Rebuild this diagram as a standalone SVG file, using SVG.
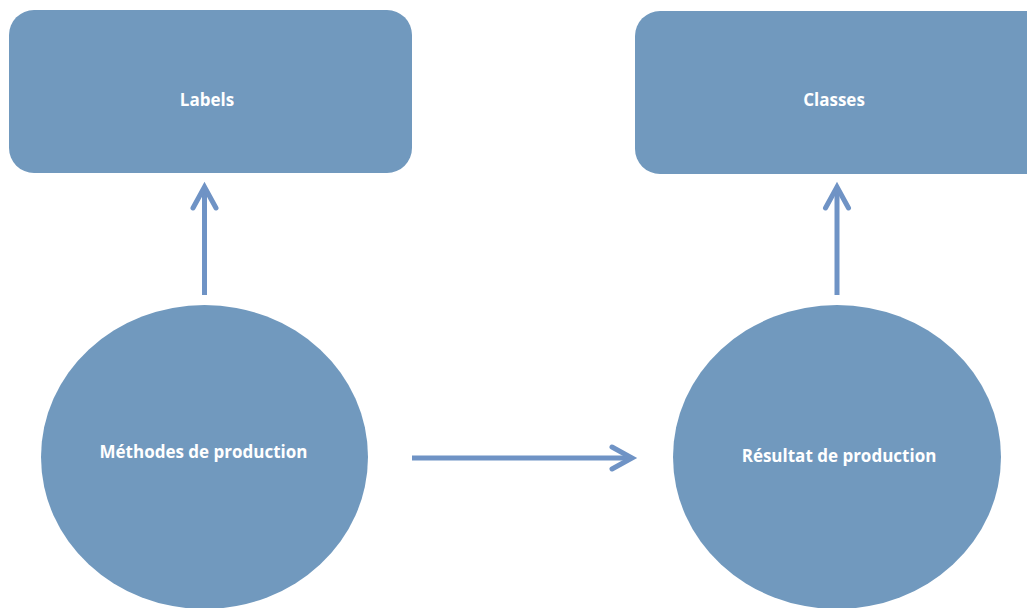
<svg xmlns="http://www.w3.org/2000/svg" width="1027" height="608" viewBox="0 0 1027 608">
<style>
.node{fill:#7199be;}
.lbl{font-family:"Open Sans","Noto Sans",sans-serif;font-weight:bold;font-size:17px;fill:#ffffff;text-anchor:middle;}
.conn{stroke:#6f93c5;stroke-width:5;fill:none;stroke-linecap:butt;}
.head{stroke:#6f93c5;stroke-width:5;fill:none;stroke-linecap:round;stroke-linejoin:miter;}
</style>
<rect width="1027" height="608" fill="#ffffff"/>
<g id="labels">
<rect class="node" x="9" y="10" width="403" height="163" rx="25" ry="25"/>
<text class="lbl" x="207" y="106">Labels</text>
</g>
<g id="classes">
<rect class="node" x="635" y="11" width="420" height="163" rx="25" ry="25"/>
<text class="lbl" x="834" y="106">Classes</text>
</g>
<g id="methodes">
<ellipse class="node" cx="204.5" cy="457" rx="163.5" ry="152"/>
<text class="lbl" x="203.5" y="458">Méthodes de production</text>
</g>
<g id="resultat">
<ellipse class="node" cx="837" cy="457" rx="164" ry="152"/>
<text class="lbl" x="839" y="462">Résultat de production</text>
</g>
<g id="connectors">
<line class="conn" x1="204.5" y1="295" x2="204.5" y2="188"/>
<polyline class="head" points="193,208 204.5,187 216,208"/>
<line class="conn" x1="837" y1="295" x2="837" y2="188"/>
<polyline class="head" points="825.5,208 837,187 848.5,208"/>
<line class="conn" x1="412" y1="458" x2="631" y2="458"/>
<polyline class="head" points="612,447 632,458 612,469"/>
</g>
</svg>
